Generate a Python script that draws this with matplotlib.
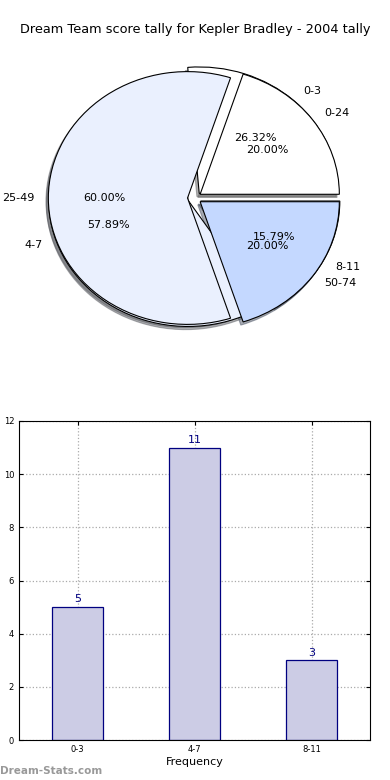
import matplotlib
matplotlib.use("Agg")
import matplotlib.pyplot as plt

title = "Dream Team score tally for Kepler Bradley - 2004 tally"

# pie 1: score tally groups
tally_labels = ["0-3", "4-7", "8-11"]
tally_counts = [5, 11, 3]

# pie 2: percentile groups
pct_labels = ["0-24", "25-49", "50-74"]
pct_counts = [1, 3, 1]

# bar chart
bar_labels = ["0-3", "4-7", "8-11"]
bar_values = [5, 11, 3]

pie_colors = ["#ffffff", "#eaf0fe", "#c4d8ff"]

fig = plt.figure(figsize=(3.9, 7.8), dpi=100, facecolor="white")

fig.text(0.5, 1 - 30 / 780, title, ha="center", va="center", fontsize=9.3)

ax_pie = fig.add_axes([20.5 / 390, 424 / 780, 348 / 390, 316 / 780])
wedge_kw = {"edgecolor": "black", "linewidth": 0.8}
shadow_kw = {"ox": -0.012, "oy": -0.018, "shade": 0.6}
ax_pie.pie(tally_counts, labels=tally_labels, colors=pie_colors, explode=[0.05] * 3,
           autopct="%.2f%%", shadow=shadow_kw, wedgeprops=wedge_kw,
           textprops={"fontsize": 8})
ax_pie.pie(pct_counts, labels=pct_labels, colors=pie_colors, explode=[0.05] * 3,
           autopct="%.2f%%", shadow=shadow_kw, wedgeprops=wedge_kw,
           textprops={"fontsize": 8})
ax_pie.set_aspect("auto")
ax_pie.set_xlim(-1.25, 1.25)
ax_pie.set_ylim(-1.25, 1.25)

ax_bar = fig.add_axes([19 / 390, 40 / 780, 351 / 390, 319 / 780])
x = range(len(bar_values))
bars = ax_bar.bar(x, bar_values, width=0.44, color="#ccccE5", edgecolor="navy",
                  linewidth=0.9, zorder=2)
for rect, v in zip(bars, bar_values):
    ax_bar.text(rect.get_x() + rect.get_width() / 2, v + 0.1, str(v),
                ha="center", va="bottom", color="navy", fontsize=8)
ax_bar.set_xlim(-0.5, 2.5)
ax_bar.set_ylim(0, 12)
ax_bar.set_yticks(range(0, 13, 2))
ax_bar.set_xticks(list(x))
ax_bar.set_xticklabels(bar_labels)
ax_bar.tick_params(labelsize=6, direction="in", top=True, right=True, length=3)
ax_bar.grid(True, linestyle=":", color="#aaaaaa", linewidth=0.9, zorder=0)
ax_bar.set_axisbelow(True)
ax_bar.set_xlabel("Frequency", fontsize=8, labelpad=2)
ax_bar.set_ylabel("Score Tallies", fontsize=8, labelpad=6)

fig.text(0.0, 1 - 771 / 780, "Dream-Stats.com", ha="left", va="center",
         fontsize=7.5, color="#999999", fontweight="bold")

fig.savefig("out.png", dpi=100, facecolor="white")
